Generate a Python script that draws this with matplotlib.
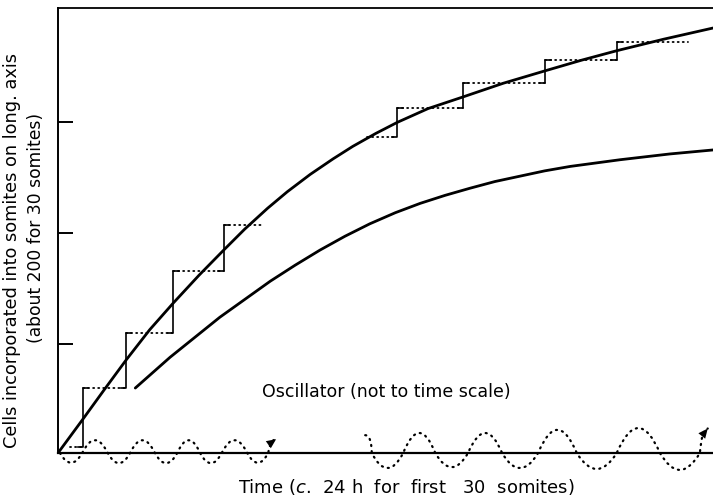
import matplotlib
matplotlib.use('Agg')
import matplotlib.pyplot as plt
from matplotlib.path import Path
from matplotlib.patches import PathPatch

plt.rcParams['font.family'] = 'DejaVu Sans'
plt.rcParams['font.size'] = 12.5

# Curves (x: time, 0-100; y: cells, 0-100)
upper_x = [0, 3.8, 7, 10.4, 14, 17.6, 21.5, 25.3, 28.5, 32, 35, 38.5, 42, 45, 48.5, 51.8,
           56.5, 61.8, 68, 74.4, 80, 85.3, 92.5, 100]
upper_y = [0, 7.6, 14.1, 20.9, 27.7, 33.7, 39.9, 45.6, 50.3, 55.0, 58.7, 62.6, 66.1, 68.9, 71.8, 74.3,
           77.4, 80.0, 83.1, 85.9, 88.3, 90.4, 93.0, 95.5]

lower_x = [11.8, 17.1, 24.7, 32.4, 36.2, 40.0, 43.8, 47.6, 51.5, 55.3, 59.1, 62.9, 66.7, 70.5,
           74.3, 78.2, 85.8, 93.4, 100]
lower_y = [14.6, 21.5, 30.5, 38.6, 42.2, 45.6, 48.7, 51.5, 54.0, 56.1, 57.9, 59.5, 61.0, 62.2,
           63.4, 64.4, 65.9, 67.2, 68.1]

# Staircases (somite formation): solid risers, dotted treads
early_rise_x = [3.8, 10.4, 17.6, 25.3]
early_levels = [1.3, 14.6, 27.0, 40.9, 51.2]
early_span = (1.8, 31.1)

late_rise_x = [51.8, 61.8, 74.4, 85.3]
late_levels = [71.0, 77.5, 83.1, 88.3, 92.4]
late_span = (47.2, 96.2)

# Oscillator: zero crossings and half-wave amplitudes
osc1_cross = [0.3, 3.7, 7.6, 11.0, 14.8, 18.2, 21.7, 25.0, 28.9, 32.1]
osc1_amp = [-2.2, 2.9, -2.3, 2.9, -2.3, 2.9, -2.3, 2.9, -2.2]
osc1_end = (33.3, 3.1)
osc1_dir = (0.76, 0.79)

osc2_start = (46.9, 4.0)
osc2_cross = [47.9, 52.7, 57.6, 62.6, 67.8, 73.3, 79.2, 85.3, 91.9, 98.0]
osc2_amp = [-3.4, 4.5, -3.2, 4.5, -3.4, 5.2, -3.6, 5.6, -3.8]
osc2_end = (99.2, 5.5)
osc2_dir = (0.6, 1.1)

y_ticks = [24.5, 49.4, 74.4]

fig = plt.figure(figsize=(7.13, 5.01), dpi=100)
ax = fig.add_axes([58 / 713, 48 / 501, 655 / 713, 445 / 501])
ax.set_xlim(0, 100)
ax.set_ylim(0, 100)

ax.spines['right'].set_visible(False)
ax.spines['top'].set_linewidth(1.3)
ax.spines['left'].set_linewidth(1.4)
ax.spines['bottom'].set_linewidth(1.6)
ax.set_xticks([])
ax.set_yticks(y_ticks)
ax.tick_params(axis='y', direction='in', length=11, width=1.4, labelleft=False)

ax.plot(upper_x, upper_y, color='black', lw=2.0, solid_capstyle='round', solid_joinstyle='round')
ax.plot(lower_x, lower_y, color='black', lw=2.0, solid_capstyle='round', solid_joinstyle='round')

dots = (0, (0.6, 2.2))


def staircase(rise_x, levels, span):
    hook = 0.8
    for i, xr in enumerate(rise_x):
        ax.plot([xr - hook, xr, xr, xr + hook], [levels[i], levels[i], levels[i + 1], levels[i + 1]],
                color='black', lw=1.2, solid_joinstyle='round')
    edges = [span[0]] + rise_x + [span[1]]
    for i, lv in enumerate(levels):
        ax.plot([edges[i], edges[i + 1]], [lv, lv], color='black', lw=1.3,
                linestyle=dots, dash_capstyle='round')


staircase(early_rise_x, early_levels, early_span)
staircase(late_rise_x, late_levels, late_span)


def oscillator(cross, amps, end, direction, start=None):
    verts, codes = [], []
    if start is not None:
        verts += [start, (cross[0], start[1]), (cross[0], 0)]
        codes += [Path.MOVETO, Path.CURVE3, Path.CURVE3]
    else:
        verts.append((cross[0], 0))
        codes.append(Path.MOVETO)
    for a, b, h in zip(cross[:-1], cross[1:], amps):
        verts += [((a + b) / 2, 2 * h), (b, 0)]
        codes += [Path.CURVE3, Path.CURVE3]
    verts += [(cross[-1] + 0.3, end[1]), end]
    codes += [Path.CURVE3, Path.CURVE3]
    patch = PathPatch(Path(verts, codes), fill=False, lw=1.6, linestyle=(0, (0.5, 2.3)),
                      edgecolor='black', clip_on=False)
    patch.set_capstyle('round')
    ax.add_patch(patch)
    ax.annotate('', xy=end, xytext=(end[0] - direction[0], end[1] - direction[1]),
                arrowprops=dict(arrowstyle='-|>,head_length=0.55,head_width=0.25',
                                lw=0, color='black', shrinkA=0, shrinkB=0),
                annotation_clip=False)


oscillator(osc1_cross, osc1_amp, osc1_end, osc1_dir)
oscillator(osc2_cross, osc2_amp, osc2_end, osc2_dir, start=osc2_start)

ax.text(31.1, 13.7, 'Oscillator (not to time scale)', ha='left', va='center')

fig.text(406 / 713, 1 - 487 / 501, 'Time ($c$.  24 h  for  first   30  somites)',
         ha='center', va='center', fontsize=13)
fig.text(12 / 713, 1 - 250 / 501, 'Cells incorporated into somites on long. axis',
         rotation=90, ha='center', va='center', fontsize=12.8)
fig.text(36 / 713, 1 - 228 / 501, '(about 200 for 30 somites)',
         rotation=90, ha='center', va='center', fontsize=12.3)

plt.savefig('out.png', dpi=100)
